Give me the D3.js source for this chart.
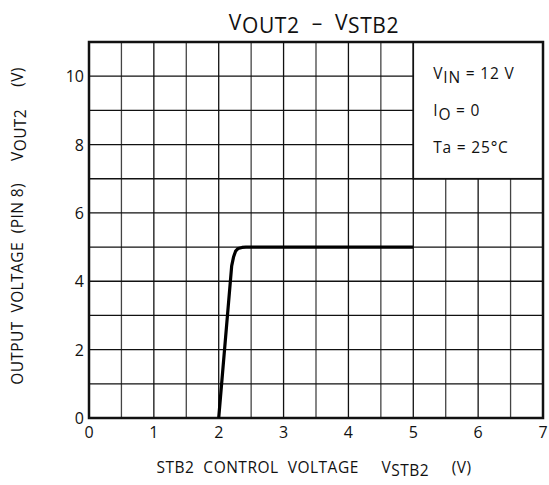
<!DOCTYPE html>
<html>
<head>
<meta charset="utf-8">
<script src="https://cdn.jsdelivr.net/npm/d3@7"></script>
<style>
  body { margin: 0; background: #fff; }
  text { font-family: "Open Sans", "DejaVu Sans", sans-serif; fill: #111; }
</style>
</head>
<body>
<div id="chart"></div>
<script>
const width = 549;
const height = 485;

// V_STB2 (V) vs V_OUT2 (V)
const vstb2 = [2.0, 2.2, 2.23, 2.26, 2.3, 2.36, 2.42, 5.0];
const vout2 = [0, 4.45, 4.72, 4.88, 4.96, 4.99, 5.0, 5.0];

const xTicks = [0, 1, 2, 3, 4, 5, 6, 7];
const yTicks = [0, 2, 4, 6, 8, 10];
const xGrid = d3.range(0, 7.01, 0.5);
const yGrid = d3.range(0, 11.01, 1);

const conditions = [
  {main: 'V', sub: 'IN', rest: ' = 12 V'},
  {main: 'I', sub: 'O', rest: ' = 0'},
  {main: 'Ta = 25°C', sub: '', rest: ''}
];

const margin = {left: 89, right: 6, top: 42, bottom: 67};

const svg = d3.select('#chart').append('svg')
    .attr('width', width)
    .attr('height', height);

const x = d3.scaleLinear().domain([0, 7]).range([margin.left, width - margin.right]);
const y = d3.scaleLinear().domain([0, 11]).range([height - margin.bottom, margin.top]);

// grid
svg.append('g').selectAll('line')
  .data(xGrid)
  .enter().append('line')
    .attr('x1', d => x(d)).attr('x2', d => x(d))
    .attr('y1', y(0)).attr('y2', y(11))
    .attr('stroke', d => d % 1 === 0 ? '#111' : '#444')
    .attr('stroke-width', 1.3);

svg.append('g').selectAll('line')
  .data(yGrid)
  .enter().append('line')
    .attr('x1', x(0)).attr('x2', x(7))
    .attr('y1', d => y(d)).attr('y2', d => y(d))
    .attr('stroke', '#111')
    .attr('stroke-width', 1.3);

// condition box covers the grid in the upper right
svg.append('rect')
  .attr('x', x(5))
  .attr('y', y(11))
  .attr('width', x(7) - x(5))
  .attr('height', y(7) - y(11))
  .attr('fill', '#fff')
  .attr('stroke', '#111')
  .attr('stroke-width', 1.6);

// frame
svg.append('rect')
  .attr('x', x(0))
  .attr('y', y(11))
  .attr('width', x(7) - x(0))
  .attr('height', y(0) - y(11))
  .attr('fill', 'none')
  .attr('stroke', '#111')
  .attr('stroke-width', 2.5);

// curve
const line = d3.line()
  .x(d => x(d[0]))
  .y(d => y(d[1]))
  .curve(d3.curveLinear);

svg.append('path')
  .datum(d3.zip(vstb2, vout2))
  .attr('d', line)
  .attr('fill', 'none')
  .attr('stroke', '#000')
  .attr('stroke-width', 3.2)
  .attr('stroke-linejoin', 'round');

// tick labels
svg.append('g').selectAll('text')
  .data(xTicks)
  .enter().append('text')
    .attr('x', d => x(d))
    .attr('y', y(0) + 20)
    .attr('text-anchor', 'middle')
    .attr('font-size', 16)
    .text(d => d);

svg.append('g').selectAll('text')
  .data(yTicks)
  .enter().append('text')
    .attr('x', x(0) - 5)
    .attr('y', d => y(d) + 6)
    .attr('text-anchor', 'end')
    .attr('font-size', 16)
    .text(d => d);

// title
const title = svg.append('text')
  .attr('x', 314)
  .attr('y', 30)
  .attr('text-anchor', 'middle')
  .attr('font-size', 21)
  .attr('letter-spacing', 0.6)
  .attr('xml:space', 'preserve');
title.append('tspan').text('V');
title.append('tspan').attr('dy', 3).text('OUT2');
title.append('tspan').attr('dy', -3).text('  –  V');
title.append('tspan').attr('dy', 3).text('STB2');

// x axis label
const xLabel = svg.append('text')
  .attr('x', 314)
  .attr('y', 473)
  .attr('text-anchor', 'middle')
  .attr('font-size', 15.5)
  .attr('letter-spacing', 0.5)
  .attr('xml:space', 'preserve');
xLabel.append('tspan').text('STB2  CONTROL  VOLTAGE     V');
xLabel.append('tspan').attr('dy', 3).text('STB2');
xLabel.append('tspan').attr('dy', -3).text('     (V)');

// y axis label
const yLabel = svg.append('text')
  .attr('transform', 'translate(23, 226) rotate(-90)')
  .attr('text-anchor', 'middle')
  .attr('font-size', 15.5)
  .attr('letter-spacing', 0.4)
  .attr('xml:space', 'preserve');
yLabel.append('tspan').text('OUTPUT  VOLTAGE  (PIN 8)     V');
yLabel.append('tspan').attr('dy', 3).text('OUT2');
yLabel.append('tspan').attr('dy', -3).text('     (V)');

// conditions
conditions.forEach((c, i) => {
  const t = svg.append('text')
    .attr('x', x(5) + 20)
    .attr('y', 79 + i * 37)
    .attr('font-size', 15.5)
    .attr('letter-spacing', 0.8)
    .attr('xml:space', 'preserve');
  t.append('tspan').text(c.main);
  if (c.sub) {
    t.append('tspan').attr('dy', 4).text(c.sub);
    t.append('tspan').attr('dy', -4).text(c.rest);
  }
});
</script>
</body>
</html>
